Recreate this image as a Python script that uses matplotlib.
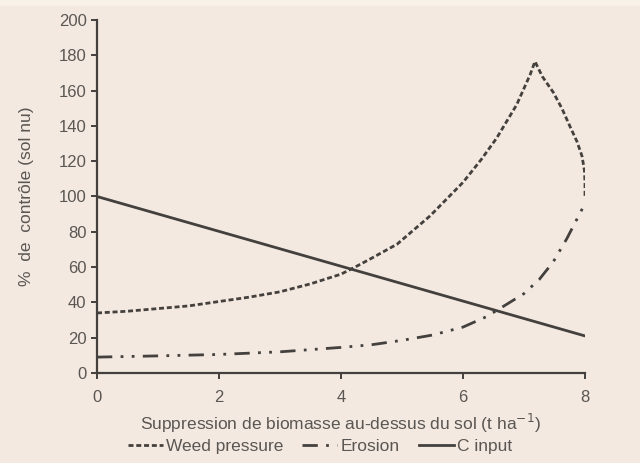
import matplotlib
matplotlib.use("Agg")
import matplotlib.pyplot as plt
from matplotlib.patches import Rectangle

# values
weed_x = [0, 0.5, 1, 1.5, 2, 2.5, 3, 3.5, 4, 4.23, 4.5, 4.92, 5.46, 6.0, 6.3, 6.55, 6.88, 7.1, 7.18,
          7.3, 7.48, 7.62, 7.75, 7.87, 7.95, 7.99, 8.0, 8.0]
weed_y = [34, 35, 36.5, 38, 40.5, 43, 46, 50.5, 56, 60, 65, 73, 89, 108, 121, 133, 152, 169, 176.5,
          168, 159, 150, 140, 131, 123, 115, 108, 100]

erosion_x = [0, 1, 2, 3, 4, 4.5, 5, 5.5, 6, 6.39, 6.72, 7, 7.25, 7.48, 7.7, 7.85, 8.0]
erosion_y = [9, 9.7, 10.5, 12, 14.5, 16, 18.5, 21.5, 26, 32, 39, 45, 53, 63, 76, 86, 96]

cinput_x = [0, 8]
cinput_y = [100, 21]

xticks = [0, 2, 4, 6, 8]
yticks = list(range(0, 201, 20))

bg = "#f3e9e0"
ink = "#43403e"
txt = "#5a5653"

plt.rcParams["font.family"] = ["Liberation Sans", "DejaVu Sans"]

fig = plt.figure(figsize=(6.4, 4.63), dpi=100, facecolor=bg)
fig.patches.append(Rectangle((0, 1 - 6 / 463), 1, 6 / 463, transform=fig.transFigure,
                             facecolor="#f8f1e8", edgecolor="none", zorder=-1))
ax = fig.add_axes([97 / 640, 1 - 373 / 463, (585 - 97) / 640, (373 - 20) / 463])
ax.set_facecolor(bg)

ax.plot(weed_x, weed_y, color=ink, lw=2, dashes=(1.8, 1.0), label="Weed pressure")
ax.plot(erosion_x, erosion_y, color=ink, lw=2, dashes=(5.5, 3, 1, 3, 1, 3), label="Erosion")
ax.plot(cinput_x, cinput_y, color=ink, lw=2, label="C input")

ax.set_xlim(0, 8)
ax.set_ylim(0, 200)
ax.set_xticks(xticks)
ax.set_yticks(yticks)
for s in ["top", "right"]:
    ax.spines[s].set_visible(False)
for s in ["left", "bottom"]:
    ax.spines[s].set_color(ink)
    ax.spines[s].set_linewidth(1.6)
ax.tick_params(colors=ink, labelcolor=txt, labelsize=12, length=4, width=1.4)
ax.tick_params(axis="x", pad=8)

ax.set_xlabel("Suppression de biomasse au-dessus du sol (t ha$^{-1}$)", color=txt, fontsize=12.5, labelpad=5)
ax.set_ylabel("%  de  contrôle (sol nu)", color=txt, fontsize=12.5, labelpad=18)

leg = fig.legend(loc="center", bbox_to_anchor=(0.5, 1 - 446 / 463), ncol=3, frameon=False,
                 fontsize=12.5, handlelength=2.0, handletextpad=0.2, columnspacing=1.1)
for t in leg.get_texts():
    t.set_color(txt)

fig.savefig("out.png", dpi=100, facecolor=bg)
